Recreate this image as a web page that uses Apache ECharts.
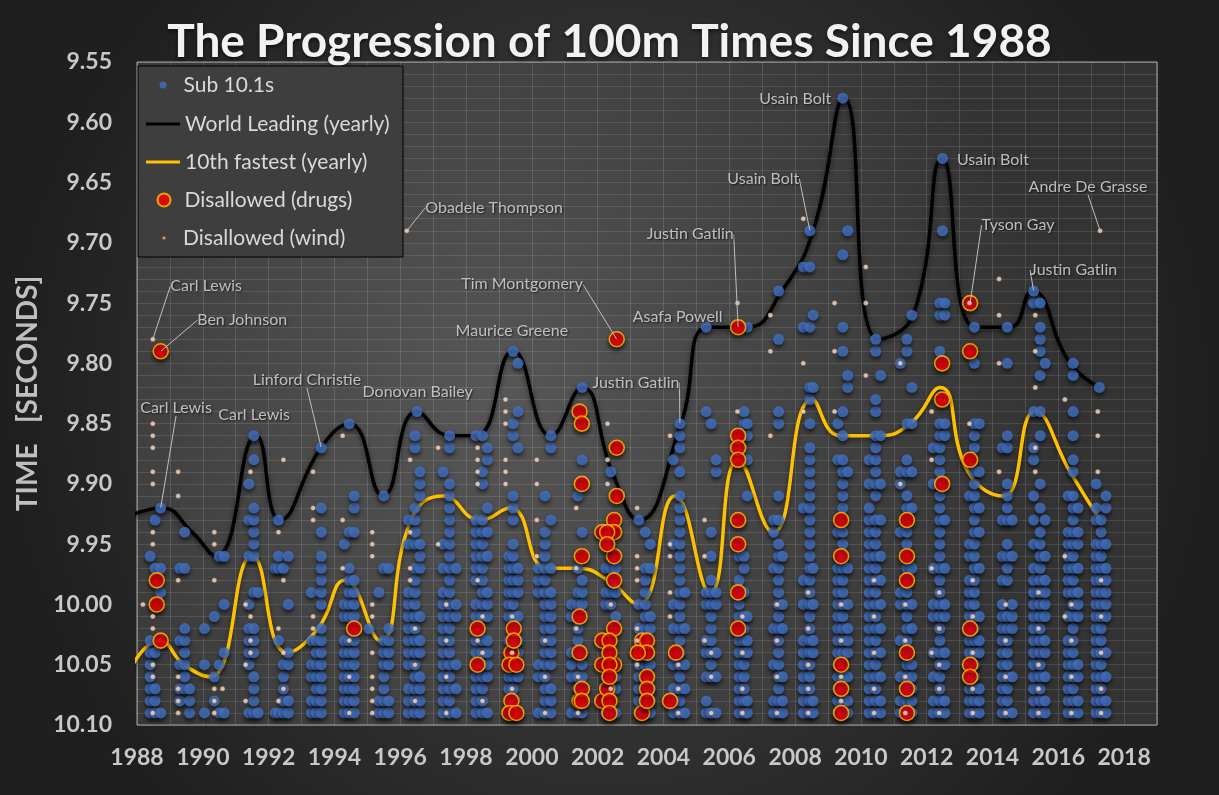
<!DOCTYPE html>
<html>
<head>
<meta charset="utf-8">
<script src="https://cdn.jsdelivr.net/npm/echarts@6/dist/echarts.min.js"></script>
<style>
html, body { margin: 0; padding: 0; background: #2a2a2a; }
#chart { width: 1219px; height: 795px; }
</style>
</head>
<body>
<div id="chart"></div>
<script>
// times are written as two-digit hundredths: '09' = 10.09, '86' = 9.86
// columns: [year, fraction of year, times in that column]
const sub101Columns = [
  [1988, 0.40, '09 08 07 06 05 04 03 96'],
  [1988, 0.55, '09 08 07 04 97 93'],
  [1988, 0.72, '09 99 97 92'],
  [1989, 0.30, '08 07 05 03 97'],
  [1989, 0.45, '07 06 05 04 03 02 97 94'],
  [1989, 0.60, '09 08 07'],
  [1990, 0.05, '09 05 02'],
  [1990, 0.35, '08 06 01'],
  [1990, 0.50, '09 05 96'],
  [1990, 0.65, '09 04 00 96'],
  [1991, 0.40, '09 05 04 03 02 00 96 93 90'],
  [1991, 0.55, '09 08 07 06 04 03 02 99 96 95 94 93 92 88 86'],
  [1991, 0.68, '09 99'],
  [1992, 0.20, '09 97'],
  [1992, 0.30, '09 03 97 96 93'],
  [1992, 0.45, '09 08 07 06 05 97'],
  [1992, 0.60, '09 08 05 04 00 96'],
  [1993, 0.30, '09 08 06 05 03 99'],
  [1993, 0.45, '09 08 07 06 05 04 03'],
  [1993, 0.60, '09 08 07 06 05 04 03 02 00 99 98 97 96 94 92 87'],
  [1994, 0.30, '09 08 07 06 05 04 03 01 00 95'],
  [1994, 0.45, '09 08 07 06 05 04 03 01 00 99 98 97 94 85'],
  [1994, 0.60, '09 08 07 06 05 04 03 01 00 99 98 94 92 91'],
  [1995, 0.05, '02'],
  [1995, 0.35, '09 08 99'],
  [1995, 0.50, '09 08 07 06 05 04 03 97 91'],
  [1995, 0.65, '09 08 05 04 03 02 97'],
  [1996, 0.25, '09 08 07 05 04 03 02 01 00 99 95 93'],
  [1996, 0.45, '09 08 07 06 05 04 03 02 01 00 99 98 97 95 94 93 92 87 86'],
  [1996, 0.51, '84'],
  [1996, 0.60, '09 08 07 06 04 03 01 97 96 95 91 90 89'],
  [1997, 0.30, '09 08 07 06 05 04 03 02 01 00 99 97 95 89'],
  [1997, 0.50, '09 08 07 06 05 04 03 02 01 00 99 98 97 96 95 94 93 92 91 90 87 86'],
  [1997, 0.70, '09 07 05 01 00 97'],
  [1998, 0.30, '09 08 07 06 05 04 03 01 00 98 97 96 95 94 93 86'],
  [1998, 0.50, '09 08 07 06 05 04 03 01 00 99 98 97 96 95 94 93 90 89 86'],
  [1998, 0.65, '09 06 05 04 03 01 00 99 96 94 92 88 87'],
  [1999, 0.30, '09 07 06 05 04 03 01 00 99 98 97 96'],
  [1999, 0.43, '09 08 07 06 05 04 03 02 01 00 99 98 97 96 95 93 92 91 86 85 79'],
  [1999, 0.58, '09 06 05 04 03 01 99 98 97 87 84 80'],
  [2000, 0.20, '09 06 05 99 98 97'],
  [2000, 0.40, '09 08 07 06 05 04 03 02 01 00 99 98 97 96 95 94 91'],
  [2000, 0.58, '09 08 07 05 04 03 02 01 00 99 97 93 87 86'],
  [2001, 0.20, '09 06 05 04 01 00'],
  [2001, 0.40, '09 08 07 06 04 03 02 00 99 97 91'],
  [2001, 0.53, '09 07 06 05 04 00 99 98 94 88 82'],
  [2002, 0.25, '09 07 06 00 99 97'],
  [2002, 0.40, '09 08 07 06 04 03 02 00 99 98 97 96 89'],
  [2002, 0.55, '09 07 06 05 01 99 97'],
  [2003, 0.25, '09 08 07 06 05 02 00 93'],
  [2003, 0.45, '09 08 07 06 05 04 03 02 01 00 99 98 97 94'],
  [2003, 0.60, '09 08 07 05 02 01 97 95'],
  [2004, 0.30, '09 07 05 02 00 95 88'],
  [2004, 0.50, '09 08 07 06 05 04 03 02 01 00 99 98 97 96 95 94 93 92 91 89 87 86 85'],
  [2004, 0.65, '09 07 05 02 99'],
  [2005, 0.30, '09 08 06 04 03 00 99 84 77'],
  [2005, 0.45, '09 06 05 04 03 02 01 00 99 98 96 94 85'],
  [2005, 0.60, '09 06 04 00 99 89 88'],
  [2006, 0.30, '09 08 07 06 05 04 03 01 00 98 96'],
  [2006, 0.45, '09 08 07 06 05 04 03 02 01 99 97 96 85 84'],
  [2006, 0.55, '09 08 04 03 01 91 88 86 85 77'],
  [2007, 0.35, '09 08 05 02 97 94 93'],
  [2007, 0.50, '09 08 07 06 05 04 03 02 01 00 99 98 97 96 95 93 91 85 84 78 74'],
  [2007, 0.62, '09 08 06 02 00 96'],
  [2008, 0.25, '09 08 07 06 05 04 03 00 98 92 77 72'],
  [2008, 0.45, '09 08 07 06 05 04 03 02 01 00 99 98 97 96 95 94 93 92 91 90 89 88 87 85 83 82 77 72 69'],
  [2008, 0.55, '09 08 04 03 00 97 82 76'],
  [2009, 0.30, '09 08 07 06 05 04 03 02 01 00 99 98 97 94 88 85'],
  [2009, 0.45, '09 08 07 06 04 03 02 01 00 99 98 97 96 95 94 92 91 90 89 88 86 84 79 77 71 58'],
  [2009, 0.60, '09 08 06 04 03 02 00 97 89 82 81 69'],
  [2010, 0.25, '09 08 07 06 05 04 03 02 01 00 99 98 97 96 95 94 93 92 90 88'],
  [2010, 0.45, '09 08 07 06 05 04 03 02 01 00 99 98 97 96 95 94 93 91 90 89 88 87 86 84 83 79 78'],
  [2010, 0.60, '09 08 06 04 02 00 98 96 93 90 86 81'],
  [2011, 0.20, '09 08 06 03 00 99 94 90 89 80'],
  [2011, 0.40, '09 08 07 06 05 04 03 02 01 00 99 97 95 94 92 91 89 88 85 79 78'],
  [2011, 0.55, '09 08 07 06 05 02 00 97 92 89 85 82 76'],
  [2012, 0.20, '09 08 06 04 01 00 97 90 87'],
  [2012, 0.40, '09 08 07 06 05 04 03 02 01 00 99 98 97 96 95 94 93 92 91 89 88 87 86 85 79 76 75'],
  [2012, 0.48, '69 63'],
  [2012, 0.55, '09 08 05 04 01 00 97 93 86 85 76 75'],
  [2013, 0.30, '09 08 07 06 04 03 01 00 99 98 96 95 91'],
  [2013, 0.45, '09 08 07 06 05 04 03 02 01 00 99 98 97 96 95 94 93 92 91 90 89 87 86 85 80 77'],
  [2013, 0.60, '09 08 07 04 03 01 97 94 92 89 85'],
  [2014, 0.30, '09 08 07 06 05 04 03 02 01 00 98 96 93 87'],
  [2014, 0.45, '09 08 07 06 05 04 03 02 01 98 97 96 95 93 92 91 90 87 86 80 77'],
  [2014, 0.60, '09 06 02 01 00 96 93'],
  [2015, 0.25, '09 08 07 06 05 04 03 02 01 00 99 98 97 95 93 91 88 87 84 75 74'],
  [2015, 0.45, '09 08 07 06 05 04 03 02 01 00 99 98 97 96 95 94 92 90 86 84 81 79 78 77 75'],
  [2015, 0.60, '09 08 06 04 03 01 00 99 98 96 93 80'],
  [2016, 0.30, '09 08 07 06 05 04 03 01 99 98 97 96 95 94 91'],
  [2016, 0.45, '09 08 07 06 05 04 03 02 01 00 99 98 97 96 95 94 93 92 91 89 88 86 84 81 80'],
  [2016, 0.60, '09 08 06 05 01 00 99 97 95 94 92'],
  [2017, 0.15, '09 08 07 06 05 04 03 02 01 00 99 98 97 96 95 93 92 90'],
  [2017, 0.25, '82'],
  [2017, 0.30, '09 08 07 06 05 04 03 02 01 00 99 98 97 96 95 94 93'],
  [2017, 0.45, '09 08 06 04 01 00 99 98 97 95 92 91']
];

const drugColumns = [
  [1988, 0.72, '79 03'], [1988, 0.60, '98 00'],
  [1994, 0.60, '02'],
  [1998, 0.35, '02 05'],
  [1999, 0.38, '04 08'], [1999, 0.32, '05 09'], [1999, 0.53, '05 09'], [1999, 0.45, '02 03'],
  [2001, 0.45, '84 01 04 08'], [2001, 0.52, '85 90 96 07 08'],
  [2002, 0.58, '78 87 91'], [2002, 0.50, '93 94 96 98 02 05'], [2002, 0.14, '94 03 05 08'],
  [2002, 0.29, '94 95 07'], [2002, 0.36, '03 04 05 06 08 09'],
  [2003, 0.35, '03 04 09'], [2003, 0.50, '03 04 06 07 08'], [2003, 0.22, '04'],
  [2004, 0.38, '04'], [2004, 0.20, '08'],
  [2006, 0.27, '77 86 87 88 93 95 99 02'],
  [2009, 0.40, '93 96 05 07 09'],
  [2011, 0.40, '93 96 98 04 07 09'],
  [2012, 0.47, '80 83 90'],
  [2013, 0.32, '75 79 88 02 05 06']
];

const windColumns = [
  [1988, 0.48, '78 85 86 87 89 90 94 95 01 02 05 06 09'], [1988, 0.18, '00'],
  [1989, 0.25, '09 08 07 06 98 91 89'],
  [1990, 0.35, '09 08 07 98 95 94'], [1990, 0.60, '07'],
  [1991, 0.30, '08 05 00'], [1991, 0.45, '04 03 01 89'],
  [1992, 0.30, '08 02 94'], [1992, 0.45, '07 04 98 88'],
  [1993, 0.35, '02 01 93 92 89'],
  [1994, 0.25, '97 93 86'], [1994, 0.45, '09 06 03'],
  [1995, 0.15, '09 08 07 06 04 01 00 96 95 94'],
  [1996, 0.30, '98 97 94 88'], [1996, 0.20, '69'], [1996, 0.45, '08 05 02'],
  [1997, 0.15, '95 87'], [1997, 0.40, '09 06 03 00'],
  [1998, 0.35, '03 98 90 89 88 87'], [1998, 0.50, '08 04 01'],
  [1999, 0.20, '90 89 88 85 84 83'], [1999, 0.40, '07 04 01'],
  [2000, 0.15, '96 93 90 88'], [2000, 0.40, '09 06 03'],
  [2001, 0.35, '02 97 92'], [2001, 0.40, '09 06'],
  [2002, 0.30, '90 88 85'], [2002, 0.40, '07 00'],
  [2003, 0.20, '05 03 02 98 97 96 92'],
  [2004, 0.20, '01 99 96 95 86'], [2004, 0.45, '09 07 05'],
  [2005, 0.25, '03 96 93'], [2005, 0.45, '09 06 04'],
  [2006, 0.25, '84 75'], [2006, 0.40, '09 07 04 01'],
  [2007, 0.25, '86 79 76'], [2007, 0.45, '09 06 03 00'],
  [2008, 0.25, '84 80 68'], [2008, 0.40, '09 07 05 02 99'],
  [2009, 0.20, '84 79 75'], [2009, 0.40, '08 06 03 00'],
  [2010, 0.15, '81 75 72'], [2010, 0.40, '09 07 04 01 98'],
  [2011, 0.20, '90 80'], [2011, 0.35, '09 06 03 00'],
  [2012, 0.15, '04 97 88 84'], [2012, 0.38, '09 07 05 02 99'],
  [2013, 0.30, '85 75'], [2013, 0.40, '09 07 04 01 98'],
  [2014, 0.20, '89 80 76 73'], [2014, 0.40, '09 06 03 00'],
  [2015, 0.30, '89 87 82 79 76'], [2015, 0.40, '09 07 05 02 99'],
  [2016, 0.20, '01 96 83'], [2016, 0.40, '09 06 03 00'],
  [2017, 0.27, '69'], [2017, 0.20, '89 86 84'], [2017, 0.30, '09 07 04 01 98']
];

// yearly curves: [date, time]
const worldLeading = [
  [1987.50, 9.93], [1988.75, 9.92], [1989.67, 9.94], [1990.40, 9.96], [1991.62, 9.86],
  [1992.35, 9.93], [1993.59, 9.87], [1994.47, 9.85], [1995.48, 9.91], [1996.51, 9.84],
  [1997.51, 9.86], [1998.30, 9.86], [1999.43, 9.79], [2000.58, 9.86], [2001.53, 9.82],
  [2002.44, 9.89], [2003.26, 9.93], [2004.53, 9.85], [2005.36, 9.77], [2006.54, 9.77],
  [2007.60, 9.74], [2008.55, 9.69], [2009.49, 9.58], [2010.52, 9.78], [2011.59, 9.76],
  [2012.47, 9.63], [2013.47, 9.77], [2014.53, 9.77], [2015.20, 9.74], [2016.36, 9.80],
  [2017.27, 9.82]
];
const tenthFastest = [
  [1987.50, 10.07], [1988.70, 10.03], [1989.43, 10.05], [1990.22, 10.06], [1991.50, 9.96],
  [1992.56, 10.04], [1993.50, 10.02], [1994.32, 9.98], [1995.39, 10.03], [1996.33, 9.93],
  [1997.30, 9.91], [1998.43, 9.93], [1999.34, 9.92], [2000.46, 9.97], [2001.37, 9.97],
  [2002.32, 9.98], [2003.23, 10.00], [2004.35, 9.91], [2005.42, 9.99], [2006.27, 9.88],
  [2007.33, 9.94], [2008.52, 9.83], [2009.37, 9.86], [2010.49, 9.86], [2011.50, 9.85],
  [2012.41, 9.82], [2013.26, 9.89], [2014.32, 9.91], [2015.29, 9.84], [2016.36, 9.89],
  [2017.27, 9.93]
];

const noteNames = ['Carl Lewis', 'Ben Johnson', 'Carl Lewis', 'Carl Lewis', 'Linford Christie',
  'Donovan Bailey', 'Obadele Thompson', 'Maurice Greene', 'Tim Montgomery', 'Justin Gatlin',
  'Asafa Powell', 'Justin Gatlin', 'Usain Bolt', 'Usain Bolt', 'Usain Bolt', 'Tyson Gay',
  'Andre De Grasse', 'Justin Gatlin'];
const notePoints = [
  [1988.48, 9.78], [1988.72, 9.79], [1988.72, 9.92], [1991.55, 9.86], [1993.60, 9.87],
  [1996.51, 9.84], [1996.20, 9.69], [1999.43, 9.79], [2002.58, 9.78], [2004.50, 9.85],
  [2005.30, 9.77], [2006.27, 9.77], [2008.45, 9.69], [2009.45, 9.58], [2012.48, 9.63],
  [2013.32, 9.75], [2017.27, 9.69], [2015.25, 9.74]
];
// label offsets from the point, and whether a leader line is drawn
const noteOffsets = [
  [17, -53], [36, -31], [-21, -100], [-36, -21], [-69, -68], [-55, -20], [18, -23], [-58, -20],
  [-156, -55], [-88, -41], [-74, -10], [-92, -93], [-83, -52], [-84, 1], [14, 1], [11, -78],
  [-72, -44], [-4, -21]
];
const noteLeader = [true, true, true, false, true, false, true, false, true, true, false, true,
  true, false, false, true, true, true];

function toTime(code) {
  const n = parseInt(code, 10);
  return n < 50 ? +(10 + n / 100).toFixed(2) : +(9 + n / 100).toFixed(2);
}
function expand(cols) {
  const out = [];
  cols.forEach(([yr, f, codes]) => {
    codes.split(' ').forEach(c => out.push([+(yr + f).toFixed(3), toTime(c)]));
  });
  return out;
}

const textFont = 'Lato';
const dotShadow = { shadowColor: 'rgba(0,0,0,0.75)', shadowBlur: 4, shadowOffsetY: 3 };

const chart = echarts.init(document.getElementById('chart'));

const legendText = { color: '#d9d9d9', fontSize: 21, fontFamily: textFont, lineHeight: 22 };
function legendAt(name, top, icon, w, h, left, padLeft) {
  return {
    orient: 'vertical', left: left, top: top, padding: 0, itemWidth: w, itemHeight: h,
    icon: icon, z: 20, data: [name],
    textStyle: Object.assign({ padding: [0, 0, 0, padLeft] }, legendText)
  };
}

const option = {
  animation: false,
  backgroundColor: {
    type: 'radial', x: 0.5, y: 0.5, r: 0.75,
    colorStops: [{ offset: 0, color: '#474747' }, { offset: 1, color: '#1f1f1f' }]
  },
  title: {
    text: 'The Progression of 100m Times Since 1988',
    left: 'center', top: 14,
    textStyle: {
      color: '#f2f2f2', fontSize: 46, fontWeight: 'bold', fontFamily: textFont,
      textShadowColor: 'rgba(0,0,0,0.6)', textShadowBlur: 4, textShadowOffsetY: 2
    }
  },
  grid: {
    left: 137, right: 62, top: 62, bottom: 70, show: true,
    borderColor: '#a6a6a6', borderWidth: 1,
    backgroundColor: {
      type: 'radial', x: 0.35, y: 0.5, r: 0.85,
      colorStops: [{ offset: 0, color: '#575757' }, { offset: 1, color: '#333333' }]
    },
    outerBoundsMode: 'none'
  },
  graphic: [{
    type: 'rect', z: 15,
    shape: { x: 138, y: 66, width: 265, height: 191 },
    style: { fill: '#3e3e3e', stroke: '#000', lineWidth: 1 }
  }],
  legend: [
    legendAt('Sub 10.1s', 74, 'circle', 7, 7, 159.5, 12),
    legendAt('World Leading (yearly)', 113, 'rect', 34, 3, 146, 0),
    legendAt('10th fastest (yearly)', 151, 'rect', 34, 3, 146, 0),
    legendAt('Disallowed (drugs)', 189, 'circle', 13, 13, 156.5, 9),
    legendAt('Disallowed (wind)', 227, 'circle', 4, 4, 161, 12)
  ],
  xAxis: {
    type: 'value', min: 1988, max: 2019, interval: 1,
    axisLine: { show: false }, axisTick: { show: false },
    splitLine: { show: true, lineStyle: { color: 'rgba(255,255,255,0.13)', width: 1 } },
    axisLabel: {
      margin: 21, color: '#c8c8c8', fontSize: 23, fontWeight: 'bold', fontFamily: textFont,
      formatter: v => (v % 2 === 0 ? String(v) : '')
    }
  },
  yAxis: {
    type: 'value', inverse: true, min: 9.55, max: 10.10, interval: 0.01,
    name: 'TIME   [SECONDS]', nameLocation: 'middle', nameGap: 92, nameRotate: 90,
    nameTextStyle: { color: '#bfbfbf', fontSize: 28, fontWeight: 'bold', fontFamily: textFont },
    axisLine: { show: false }, axisTick: { show: false },
    splitLine: { show: true, lineStyle: { color: 'rgba(255,255,255,0.11)', width: 1 } },
    axisLabel: {
      margin: 25, color: '#c8c8c8', fontSize: 23, fontWeight: 'bold', fontFamily: textFont,
      formatter: v => (Math.round(v * 100) % 5 === 0 ? v.toFixed(2) : '')
    }
  },
  series: [
    {
      name: 'World Leading (yearly)', type: 'line', data: worldLeading, smooth: 0.5,
      showSymbol: false, symbol: 'none', z: 3,
      itemStyle: { color: '#000000' },
      lineStyle: { color: '#000000', width: 3.5, shadowColor: 'rgba(0,0,0,0.5)', shadowBlur: 5, shadowOffsetY: 2 }
    },
    {
      name: '10th fastest (yearly)', type: 'line', data: tenthFastest, smooth: 0.5,
      showSymbol: false, symbol: 'none', z: 3,
      itemStyle: { color: '#ffc000' },
      lineStyle: { color: '#ffc000', width: 3.5, shadowColor: 'rgba(0,0,0,0.45)', shadowBlur: 5, shadowOffsetY: 2 }
    },
    {
      name: 'Sub 10.1s', type: 'scatter', data: expand(sub101Columns), symbolSize: 11, z: 4,
      itemStyle: Object.assign({ color: '#4472c4' }, dotShadow)
    },
    {
      name: 'Disallowed (drugs)', type: 'scatter', data: expand(drugColumns), symbolSize: 15, z: 5,
      itemStyle: Object.assign({ color: '#ff0000', borderColor: '#ffc000', borderWidth: 1.6 }, dotShadow)
    },
    {
      name: 'Disallowed (wind)', type: 'scatter', data: expand(windColumns), symbolSize: 5, z: 6,
      itemStyle: { color: '#fbe0cc', borderColor: 'rgba(90,60,45,0.9)', borderWidth: 0.6 }
    },
    {
      name: 'notes', type: 'scatter', symbolSize: 1, z: 7, silent: true,
      itemStyle: { color: 'rgba(0,0,0,0)' },
      data: notePoints.map((p, i) => ({
        value: p, name: noteNames[i],
        labelLine: { show: noteLeader[i] }
      })),
      label: {
        show: true, position: 'right', distance: 0, formatter: p => p.name,
        color: '#e0e0e0', fontSize: 16, fontFamily: textFont,
        textShadowColor: 'rgba(0,0,0,0.85)', textShadowBlur: 2, textShadowOffsetX: 1, textShadowOffsetY: 1
      },
      labelLine: { show: true, lineStyle: { color: '#bfbfbf', width: 1 } },
      labelLayout: p => ({ dx: noteOffsets[p.dataIndex][0], dy: noteOffsets[p.dataIndex][1] })
    }
  ]
};

chart.setOption(option);
</script>
</body>
</html>
